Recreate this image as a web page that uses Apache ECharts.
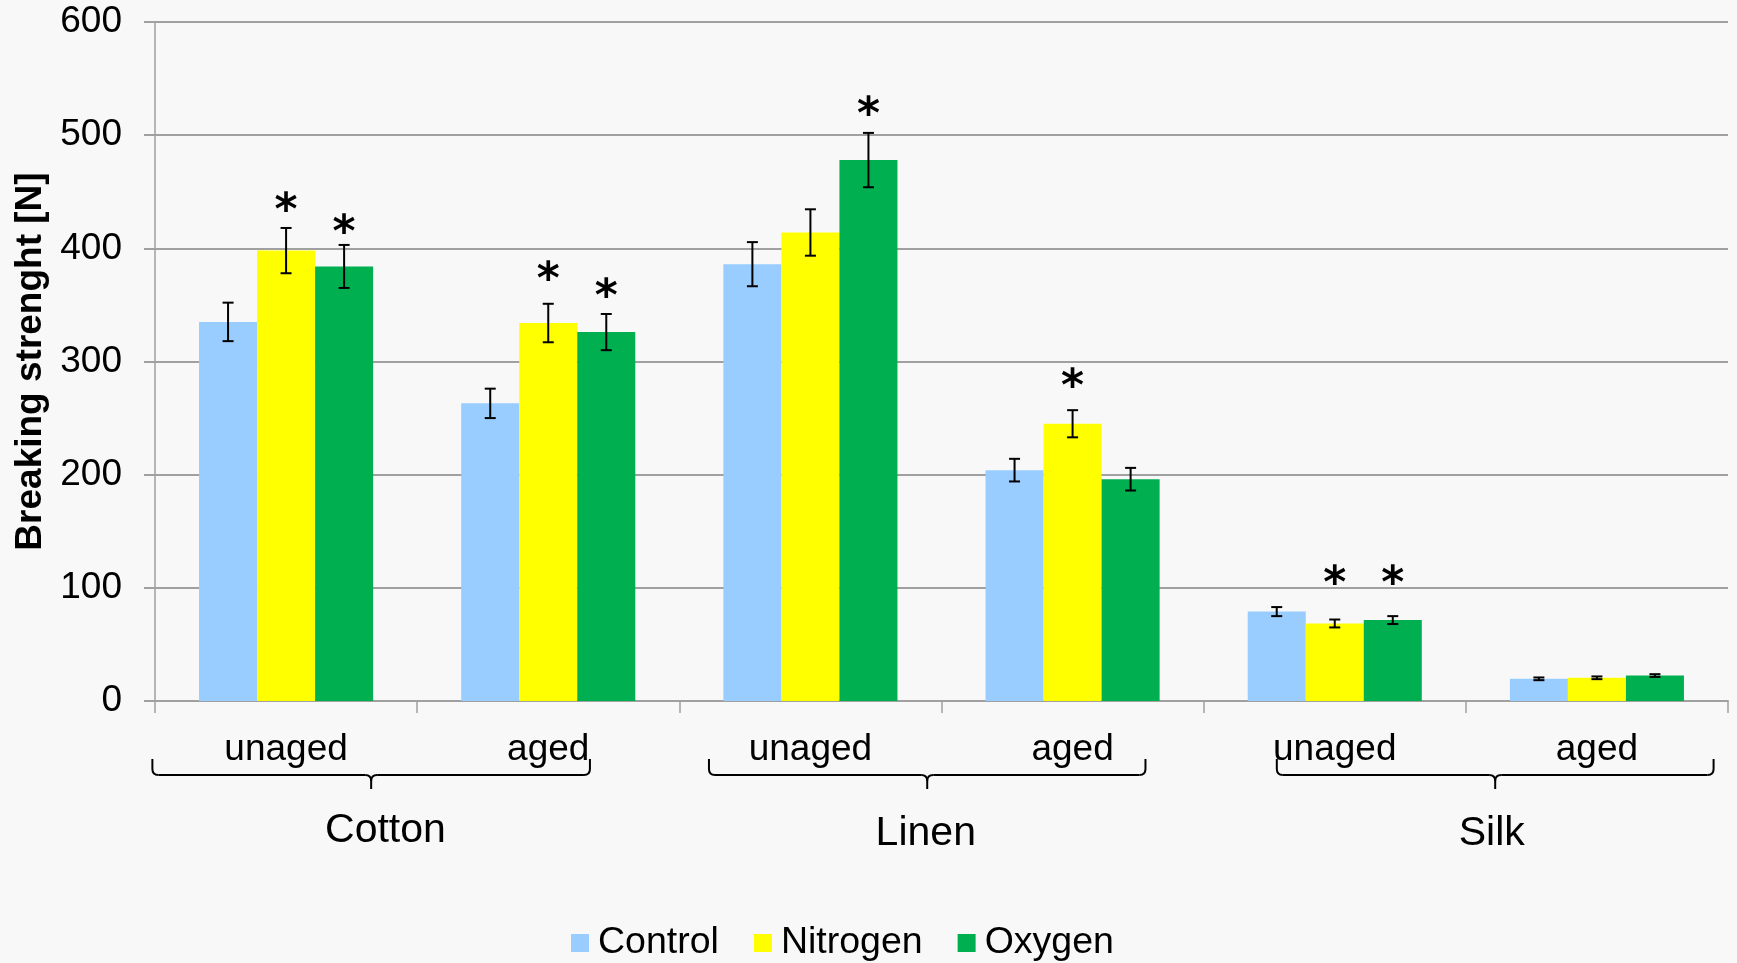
<!DOCTYPE html>
<html>
<head>
<meta charset="utf-8">
<script src="https://cdn.jsdelivr.net/npm/echarts@6/dist/echarts.min.js"></script>
<style>
html,body{margin:0;padding:0;background:#f8f8f8;}
#chart{width:1737px;height:963px;}
</style>
</head>
<body>
<div id="chart"></div>
<script>
// ---- data ----
const categories = ['unaged', 'aged', 'unaged', 'aged', 'unaged', 'aged'];
const seriesNames = ['Control', 'Nitrogen', 'Oxygen'];
const controlValues  = [335, 263, 386, 204, 79, 19.6];
const nitrogenValues = [398, 334, 414, 245, 68.5, 20.5];
const oxygenValues   = [384, 326, 478, 196, 71.5, 22.5];
const controlErrors  = [17, 13, 19.5, 10, 4, 1.2];
const nitrogenErrors = [20, 17, 20.5, 12, 3.5, 1.2];
const oxygenErrors   = [19, 16, 24, 10, 3.5, 1.2];
// y-value where a significance asterisk is drawn (null = none)
const controlStars  = [null, null, null, null, null, null];
const nitrogenStars = [440, 379, null, 284, 110, null];
const oxygenStars   = [420, 364, 524, null, 110, null];
const groupNames = ['Cotton', 'Linen', 'Silk'];
const yTicks = { min: 0, max: 600, interval: 100 };

// ---- style ----
const colors = ['#99CCFF', '#FFFF00', '#00B050'];
const catGap = 0.336;
const FONT = 'Liberation Sans, Arial, sans-serif';
const grid = { left: 155, right: 9, top: 22, bottom: 262 };

const values = [controlValues, nitrogenValues, oxygenValues];
const errors = [controlErrors, nitrogenErrors, oxygenErrors];
const stars = [controlStars, nitrogenStars, oxygenStars];

const errData = [];
for (let s = 0; s < 3; s++) {
  for (let c = 0; c < categories.length; c++) {
    errData.push([c, s, values[s][c], errors[s][c], stars[s][c] == null ? -1 : stars[s][c]]);
  }
}

const chart = echarts.init(document.getElementById('chart'));

function renderErr(params, api) {
  const c = api.value(0), s = api.value(1), v = api.value(2), e = api.value(3), st = api.value(4);
  const band = api.size([1, 0])[0];
  const bw = band * (1 - catGap) / 3;
  const cx = api.coord([c, 0])[0] + (s - 1) * bw;
  const yt = api.coord([c, v + e])[1];
  const yb = api.coord([c, v - e])[1];
  const cap = 5.5;
  const st0 = { stroke: '#000', lineWidth: 2 };
  const children = [
    { type: 'line', shape: { x1: cx, y1: yt, x2: cx, y2: yb }, style: st0 },
    { type: 'line', shape: { x1: cx - cap, y1: yt, x2: cx + cap, y2: yt }, style: st0 },
    { type: 'line', shape: { x1: cx - cap, y1: yb, x2: cx + cap, y2: yb }, style: st0 }
  ];
  if (st >= 0) {
    const ys = api.coord([c, st])[1];
    children.push({
      type: 'text',
      style: { text: '*', x: cx, y: ys + 9, align: 'center', verticalAlign: 'middle',
        font: 'bold 44px DejaVu Sans', fill: '#000' }
    });
  }
  return { type: 'group', children };
}

const option = {
  backgroundColor: '#f8f8f8',
  animation: false,
  textStyle: { fontFamily: FONT },
  grid: { left: grid.left, right: grid.right, top: grid.top, bottom: grid.bottom, containLabel: false },
  legend: {
    data: seriesNames,
    left: 566,
    top: 919,
    itemWidth: 18,
    itemHeight: 18,
    itemGap: 35,
    icon: 'rect',
    textStyle: { fontSize: 37.5, color: '#000', fontFamily: FONT, padding: [0, 0, 0, 4] }
  },
  xAxis: {
    type: 'category',
    data: categories,
    axisLine: { lineStyle: { color: '#a0a0a0', width: 2 } },
    axisTick: { show: true, length: 12, lineStyle: { color: '#a0a0a0', width: 1.5 } },
    axisLabel: { fontSize: 37, color: '#000', margin: 30, interval: 0, fontFamily: FONT },
    splitLine: { show: false }
  },
  yAxis: {
    type: 'value',
    min: yTicks.min, max: yTicks.max, interval: yTicks.interval,
    name: 'Breaking strenght [N]',
    nameLocation: 'middle',
    nameGap: 104,
    nameTextStyle: { fontSize: 37, fontWeight: 'bold', color: '#000', fontFamily: FONT },
    axisLine: { show: true, lineStyle: { color: '#a0a0a0', width: 1.5 } },
    axisTick: { show: true, length: 11, lineStyle: { color: '#a0a0a0', width: 2 } },
    axisLabel: { fontSize: 37, color: '#000', margin: 33, fontFamily: FONT },
    splitLine: { lineStyle: { color: '#a0a0a0', width: 2 } }
  },
  series: [
    ...seriesNames.map((n, i) => ({
      name: n, type: 'bar', data: values[i],
      itemStyle: { color: colors[i] },
      barGap: '0%', barCategoryGap: (catGap * 100) + '%'
    })),
    {
      type: 'custom', name: 'err', data: errData, renderItem: renderErr,
      encode: { x: 0, y: 2 }, z: 10, silent: true
    }
  ]
};
chart.setOption(option);

// ---- brackets and group labels (positions in category units) ----
const bracketSpans = [[-0.01, 1.659], [2.113, 3.778], [4.279, 5.945]];
const groupLabelPos = [0.879, 2.94, 5.099];
const groupLabelY = [831, 834, 834];
function catX(u) {
  const w = 1737 - grid.left - grid.right;
  return grid.left + u * w / categories.length;
}
const graphics = [];
const yTop = 759, yH = 775, yTip = 789, r = 6;
const bs = { stroke: '#000', lineWidth: 2, fill: null };
bracketSpans.forEach((sp, i) => {
  const x1 = catX(sp[0]), x2 = catX(sp[1]), xm = (x1 + x2) / 2;
  graphics.push({ type: 'line', shape: { x1: x1, y1: yTop, x2: x1, y2: yH - r }, style: bs });
  graphics.push({ type: 'bezierCurve', shape: { x1: x1, y1: yH - r, cpx1: x1, cpy1: yH, x2: x1 + r, y2: yH }, style: bs });
  graphics.push({ type: 'line', shape: { x1: x1 + r, y1: yH, x2: xm - r, y2: yH }, style: bs });
  graphics.push({ type: 'bezierCurve', shape: { x1: xm - r, y1: yH, cpx1: xm, cpy1: yH, x2: xm, y2: yH + r }, style: bs });
  graphics.push({ type: 'bezierCurve', shape: { x1: xm + r, y1: yH, cpx1: xm, cpy1: yH, x2: xm, y2: yH + r }, style: bs });
  graphics.push({ type: 'line', shape: { x1: xm, y1: yH + r, x2: xm, y2: yTip }, style: bs });
  graphics.push({ type: 'line', shape: { x1: xm + r, y1: yH, x2: x2 - r, y2: yH }, style: bs });
  graphics.push({ type: 'bezierCurve', shape: { x1: x2 - r, y1: yH, cpx1: x2, cpy1: yH, x2: x2, y2: yH - r }, style: bs });
  graphics.push({ type: 'line', shape: { x1: x2, y1: yH - r, x2: x2, y2: yTop }, style: bs });
  graphics.push({ type: 'text', x: catX(groupLabelPos[i]), y: groupLabelY[i],
    style: { text: groupNames[i], font: '41px ' + FONT, fill: '#000', align: 'center', verticalAlign: 'middle' } });
});
chart.setOption({ graphic: graphics });
</script>
</body>
</html>
